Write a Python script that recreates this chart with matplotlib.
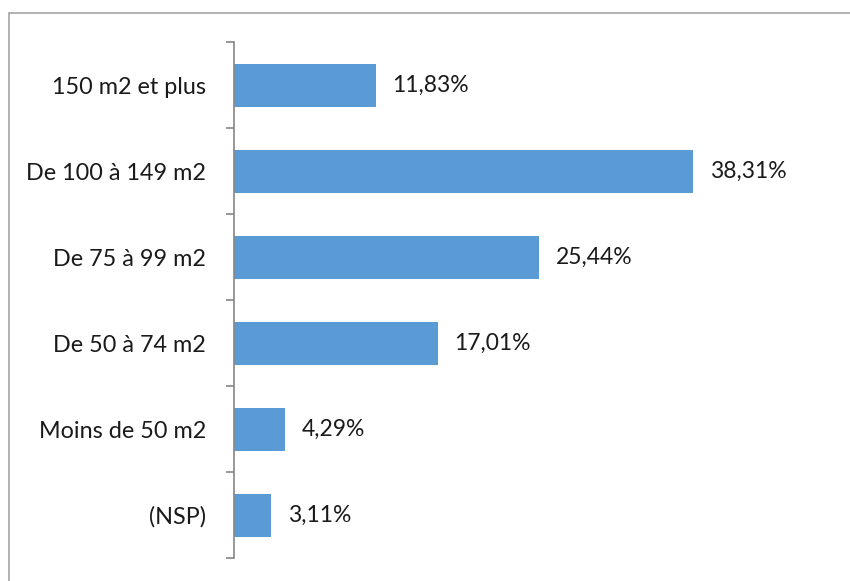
import matplotlib.pyplot as plt
from matplotlib.patches import Rectangle
import numpy as np

categories = ["(NSP)", "Moins de 50 m2", "De 50 à 74 m2", "De 75 à 99 m2",
              "De 100 à 149 m2", "150 m2 et plus"]
values = [3.11, 4.29, 17.01, 25.44, 38.31, 11.83]
labels = ["3,11%", "4,29%", "17,01%", "25,44%", "38,31%", "11,83%"]

plt.rcParams['font.family'] = ['Lato', 'DejaVu Sans']

fig = plt.figure(figsize=(8.5, 5.81), dpi=100)
ax = fig.add_axes([234 / 850, 1 - 558 / 581, (833 - 234) / 850, (558 - 42) / 581])

y = np.arange(len(categories))
ax.barh(y, values, height=0.5, color="#5b9bd5", edgecolor="none")
for yi, v, lab in zip(y, values, labels):
    ax.annotate(lab, (v, yi), xytext=(12, 0), textcoords="offset points",
                va="center", ha="left", fontsize=16.5, color="#1a1a1a")

ax.set_xlim(0, 50)
ax.set_ylim(-0.5, len(categories) - 0.5)
ax.set_yticks(y)
ax.set_yticklabels(categories, fontsize=16.8, color="#1a1a1a")
ax.set_yticks(np.arange(len(categories) + 1) - 0.5, minor=True)
ax.tick_params(axis="y", which="major", length=0, pad=20)
ax.tick_params(axis="y", which="minor", length=6, color="#868686", width=1.2)
ax.set_xticks([])
for s in ["top", "right", "bottom"]:
    ax.spines[s].set_visible(False)
ax.spines["left"].set_color("#868686")
ax.spines["left"].set_linewidth(1.2)

fig.patches.append(Rectangle((9 / 850, -0.1), 1.2, 1 - 13 / 581 + 0.1,
                             transform=fig.transFigure, fill=False,
                             edgecolor="#a6a6a6", linewidth=1.2))

fig.savefig("out.png", dpi=100)
